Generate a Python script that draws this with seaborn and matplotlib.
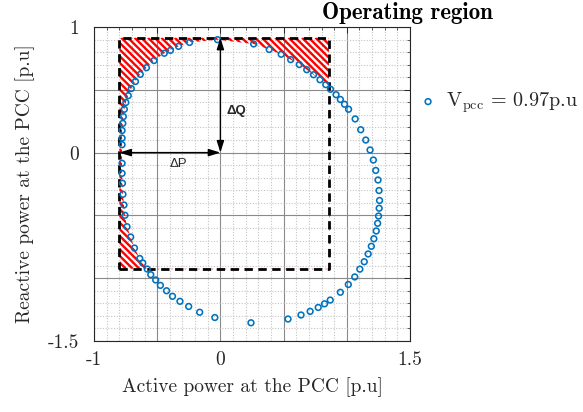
import matplotlib
matplotlib.use('Agg')
import matplotlib.pyplot as plt
import seaborn as sns
import numpy as np
import pandas as pd
from matplotlib.path import Path
from matplotlib.patches import PathPatch
from matplotlib.collections import LineCollection
from matplotlib.ticker import MultipleLocator

# ---- data ----
P_vals = [-0.023, 0.263, 0.386, 0.481, 0.556, 0.624, 0.683, 0.737, 0.788, 0.834,
          0.871, 0.915, 0.949, 0.982, 1.014, 1.066, 1.110, 1.150, 1.184, 1.210,
          1.229, 1.247, 1.255, 1.259, 1.256, 1.251, 1.244, 1.233, 1.214, 1.194,
          1.169, 1.138, 1.103, 1.063, 1.012, 0.949, 0.869, 0.824, 0.774, 0.710,
          0.638, 0.535, 0.242, -0.044, -0.164, -0.251, -0.320, -0.379, -0.426, -0.475,
          -0.512, -0.551, -0.579, -0.614, -0.638, -0.680, -0.710, -0.739, -0.755, -0.763,
          -0.771, -0.775, -0.778, -0.778, -0.778, -0.778, -0.778, -0.772, -0.768, -0.760,
          -0.748, -0.729, -0.705, -0.672, -0.634, -0.585, -0.525, -0.444, -0.395, -0.331,
          -0.244]
Q_vals = [0.899, 0.865, 0.821, 0.783, 0.740, 0.701, 0.660, 0.620, 0.580, 0.541,
          0.504, 0.461, 0.423, 0.385, 0.345, 0.268, 0.182, 0.100, 0.021, -0.059,
          -0.142, -0.218, -0.302, -0.381, -0.443, -0.505, -0.563, -0.624, -0.686, -0.746,
          -0.807, -0.869, -0.928, -0.990, -1.050, -1.112, -1.174, -1.204, -1.233, -1.264,
          -1.293, -1.325, -1.355, -1.313, -1.271, -1.225, -1.184, -1.144, -1.100, -1.057,
          -1.014, -0.972, -0.927, -0.879, -0.843, -0.760, -0.672, -0.590, -0.499, -0.417,
          -0.332, -0.244, -0.165, -0.085, 0.063, 0.116, 0.176, 0.233, 0.287, 0.345,
          0.399, 0.453, 0.510, 0.566, 0.623, 0.676, 0.733, 0.791, 0.814, 0.846,
          0.877]

rect_P = [-0.80, 0.86]      # operating region limits (active power)
rect_Q = [-0.925, 0.915]    # operating region limits (reactive power)

x_ticks = [-1, -0.5, 0, 0.5, 1, 1.5]
x_ticklabels = ['-1', '', '0', '', '', '1.5']
y_ticks = [-1.5, -1, -0.5, 0, 0.5, 1]
y_ticklabels = ['-1.5', '', '', '0', '', '1']

legend_label = r'V$_{\mathrm{pcc}}$ = 0.97p.u'
title_text = 'Operating region'
xlabel_text = 'Active power at the PCC [p.u]'
ylabel_text = 'Reactive power at the PCC [p.u]'
dP_text = '\u0394P'
dQ_text = '\u0394Q'

# ---- style ----
sns.set_theme(style='white')
plt.rcParams.update({
    'font.family': 'cmr10',
    'mathtext.fontset': 'cm',
    'axes.unicode_minus': False,
})

fig = plt.figure(figsize=(5.83, 4.12), dpi=100)
ax = fig.add_axes([94 / 583, 1 - 341 / 412, 316 / 583, 314 / 412])

ax.set_xlim(-1, 1.5)
ax.set_ylim(-1.5, 1)
ax.set_xticks(x_ticks)
ax.set_xticklabels(x_ticklabels)
ax.set_yticks(y_ticks)
ax.set_yticklabels(y_ticklabels)
ax.xaxis.set_minor_locator(MultipleLocator(0.1))
ax.yaxis.set_minor_locator(MultipleLocator(0.1))
ax.grid(which='major', color='#8a8a8a', lw=0.8, ls='-')
ax.grid(which='minor', color='#c4c4c4', lw=0.8, ls=(0, (1, 1.5)))
ax.set_axisbelow(True)
for s in ax.spines.values():
    s.set_color('#262626')
    s.set_linewidth(0.8)
ax.tick_params(which='both', direction='in', top=True, right=True, color='#262626')
ax.tick_params(which='major', length=4, width=0.7, labelsize=14)
ax.tick_params(which='minor', length=2, width=0.5)
ax.tick_params(axis='y', pad=11)
ax.tick_params(axis='x', pad=7)

# hatched region: inside the rectangle, outside the capability curve
x0, x1 = rect_P
y0, y1 = rect_Q
rect_verts = [(x0, y0), (x1, y0), (x1, y1), (x0, y1), (x0, y0)]
curve_verts = list(zip(P_vals, Q_vals)) + [(P_vals[0], Q_vals[0])]
codes = ([Path.MOVETO] + [Path.LINETO] * 3 + [Path.CLOSEPOLY] +
         [Path.MOVETO] + [Path.LINETO] * (len(curve_verts) - 2) + [Path.CLOSEPOLY])
region = PathPatch(Path(rect_verts + curve_verts, codes), facecolor='none',
                   edgecolor='none', lw=0)
ax.add_patch(region)
# diagonal "\" hatch lines restricted to the rectangle, clipped to the region
step = 0.053
segs = []
for c in np.arange(x0 + y0, x1 + y1 + step, step):
    pa = max(x0, c - y1)
    pb = min(x1, c - y0)
    if pb > pa:
        segs.append([(pa, c - pa), (pb, c - pb)])
hatch = LineCollection(segs, colors='red', linewidths=1.7, zorder=2,
                       capstyle='butt')
ax.add_collection(hatch)
hatch.set_clip_path(region)

# dashed operating-region rectangle
ax.plot([x0, x1, x1, x0, x0], [y0, y0, y1, y1, y0], color='black', lw=2.0,
        ls=(0, (3, 2)), zorder=3)

# data points
df = pd.DataFrame({'P': P_vals, 'Q': Q_vals})
sns.scatterplot(data=df, x='P', y='Q', ax=ax, marker='o', s=17,
                facecolor='none', edgecolor='#0072BD', linewidth=1.15,
                label=legend_label, zorder=4)

# arrows
aprops = dict(arrowstyle='<|-|>,head_length=0.7,head_width=0.22', color='black',
              lw=1.0, shrinkA=0, shrinkB=0, mutation_scale=10)
ax.annotate('', xy=(0, y1), xytext=(0, 0), arrowprops=aprops, zorder=5)
ax.annotate('', xy=(0, 0), xytext=(x0, 0), arrowprops=aprops, zorder=5)
ax.text(0.125, 0.335, dQ_text, family='Liberation Sans', fontsize=9.5,
        fontweight='bold', ha='center', va='center', zorder=6)
ax.text(-0.335, -0.09, dP_text, family='Liberation Sans', fontsize=9.5,
        ha='center', va='center', zorder=6)

ax.set_xlabel(xlabel_text, fontsize=14, labelpad=6, color='#262626')
ax.set_ylabel(ylabel_text, fontsize=14, labelpad=9, color='#262626')
for lab in ax.get_xticklabels() + ax.get_yticklabels():
    lab.set_color('#262626')

ax.legend(loc='center left', bbox_to_anchor=(420 / 583, 1 - 103 / 412),
          bbox_transform=fig.transFigure, frameon=False, fontsize=14.5,
          borderaxespad=0, borderpad=0, handletextpad=0.5, handlelength=0.8,
          markerscale=1.0)

fig.text(407 / 583, 1 - 13 / 412, title_text, family='cmb10', fontsize=16.5,
         ha='center', va='center', color='black')

fig.savefig('out.png', dpi=100)
